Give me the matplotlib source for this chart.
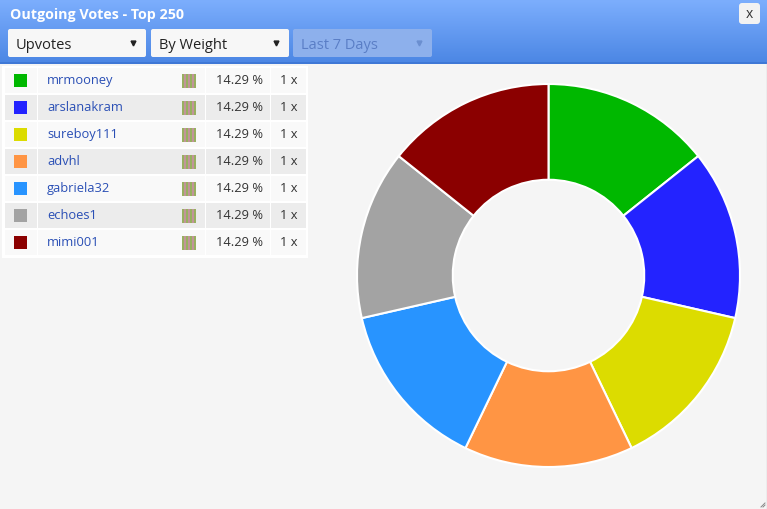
import matplotlib.pyplot as plt
import numpy as np
from matplotlib.patches import Rectangle, FancyBboxPatch

plt.rcParams['font.family'] = ['Open Sans', 'DejaVu Sans']

names = ["mrmooney", "arslanakram", "sureboy111", "advhl", "gabriela32", "echoes1", "mimi001"]
percents = [14.29, 14.29, 14.29, 14.29, 14.29, 14.29, 14.29]
counts = [1, 1, 1, 1, 1, 1, 1]
colors = ["#00b800", "#2323ff", "#dcdc00", "#ff9544", "#2894ff", "#a3a3a3", "#8b0000"]
dropdowns = ["Upvotes", "By Weight", "Last 7 Days"]

W, H = 767, 509
fig = plt.figure(figsize=(W / 100, H / 100), dpi=100, facecolor="#f5f5f5")

# pixel-coordinate canvas for the widget chrome
ax = fig.add_axes([0, 0, 1, 1])
ax.set_facecolor("#f5f5f5")

# header gradient
grad = np.linspace(0, 1, 64).reshape(-1, 1)
top = np.array([0x7c, 0xae, 0xfd]) / 255
bot = np.array([0x4b, 0x86, 0xe4]) / 255
img = top + (bot - top) * grad[..., None]
img = np.repeat(img, 2, axis=1)
ax.imshow(img, extent=(0, W, 64, 0), aspect="auto", interpolation="bilinear", zorder=1)
ax.add_patch(Rectangle((0, 62), W, 2, fc="#3f78d6", ec="none", zorder=2))
ax.plot([W - 0.5, W - 0.5], [64, H], color="#c8c8c8", lw=1, zorder=2)

ax.text(10, 15, "Outgoing Votes - Top 250", color="white", fontsize=10.3,
        fontweight="bold", va="center", ha="left", zorder=3)

# close button
ax.add_patch(FancyBboxPatch((739, 3), 21, 21, boxstyle="round,pad=0,rounding_size=3",
                            fc="#f2f2f2", ec="none", zorder=3))
ax.text(749.5, 14, "x", fontsize=10, color="#333333", ha="center", va="center", zorder=4)

# dropdowns
boxes = [(8, 138), (151, 138), (293, 139)]
for (x0, w), label, i in zip(boxes, dropdowns, range(3)):
    disabled = i == 2
    fc = "#8db0ec" if disabled else "#f7f7f7"
    tc = "#5a7ec6" if disabled else "#222222"
    ac = "#6b8fd0" if disabled else "#222222"
    ax.add_patch(FancyBboxPatch((x0, 29), w, 28, boxstyle="round,pad=0,rounding_size=2",
                                fc=fc, ec="none", zorder=3))
    ax.text(x0 + 8, 45, label, fontsize=10.5, color=tc, ha="left", va="center", zorder=4)
    ax.plot(x0 + w - 13, 42.5, marker="v", ms=3.5, color=ac, mec=ac, zorder=4)

# table
ax.add_patch(Rectangle((2, 66), 306, 192, fc="white", ec="none", zorder=2))
row_h = 27
for i, (name, pct, cnt, col) in enumerate(zip(names, percents, counts, colors)):
    y0 = 68 + i * row_h
    yc = y0 + 12.5
    bg = "#f9f9f9" if i % 2 == 0 else "#ececec"
    for cx0, cx1 in [(5, 37), (38, 205), (206, 270), (271, 306)]:
        ax.add_patch(Rectangle((cx0, y0), cx1 - cx0, 25, fc=bg, ec="none", zorder=3))
    ax.add_patch(Rectangle((14, yc - 6.5), 13, 13, fc=col, ec="none", zorder=4))
    ax.text(47, yc, name, fontsize=9.3, color="#2a4fb5", ha="left", va="center", zorder=4)
    # striped weight icon
    for k in range(7):
        sc = "#98b060" if k % 2 == 0 else "#c2949a"
        ax.add_patch(Rectangle((182 + 2 * k, yc - 7), 2, 14, fc=sc, ec="none",
                               antialiased=False, zorder=4 + 0.01 * k))
    ax.text(216, yc, f"{pct:.2f} %", fontsize=9.3, color="#333333", ha="left", va="center", zorder=4)
    ax.text(280, yc, f"{cnt} x", fontsize=9.3, color="#333333", ha="left", va="center", zorder=4)

# resize grip
for k in range(3):
    ax.plot([W - 2 - k * 2, W - 2], [H - 2, H - 2 - k * 2], color="#888888", lw=0.7, zorder=3)

ax.set_xlim(0, W)
ax.set_ylim(H, 0)
ax.axis("off")

# donut
cx, cy, r = 548.5, 275.5, 191.5
pax = fig.add_axes([(cx - r) / W, (H - cy - r) / H, 2 * r / W, 2 * r / H])
pax.pie(counts, colors=colors, startangle=90, counterclock=False,
        wedgeprops=dict(width=0.5, edgecolor="white", linewidth=1.5))
pax.set_xlim(-1, 1)
pax.set_ylim(-1, 1)
pax.set_aspect("equal")
pax.axis("off")

fig.savefig("out.png", dpi=100, facecolor=fig.get_facecolor())
